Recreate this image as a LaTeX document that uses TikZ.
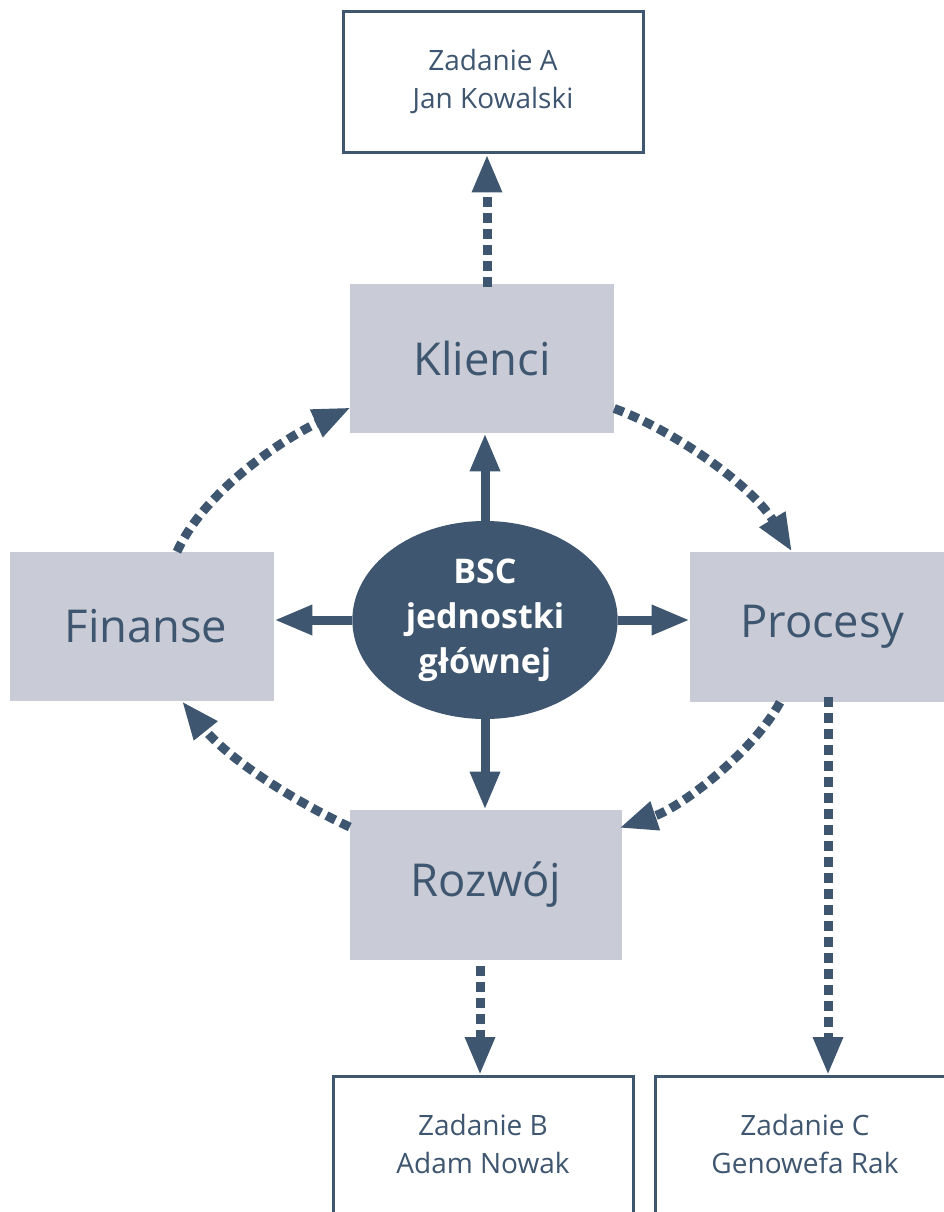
\documentclass[tikz,border=0pt]{standalone}
\usepackage{fontspec}
\setmainfont{Open Sans}
\usetikzlibrary{arrows.meta,shapes.geometric,calc}
\definecolor{dark}{HTML}{3E566F}
\definecolor{boxfill}{HTML}{C9CCD6}
\tikzset{
  area/.style={rectangle, fill=boxfill, text=dark, inner sep=0pt,
    font=\fontsize{34}{40}\selectfont},
  taskbox/.style={rectangle, draw=dark, line width=2.25pt, fill=white, inner sep=0pt},
  tasktext/.style={text=dark, align=center, inner sep=0pt,
    font=\fontsize{21}{28.5}\selectfont},
  core/.style={ellipse, fill=dark, text=white, align=center, inner sep=0pt,
    minimum width=199pt, minimum height=148.5pt,
    font=\bfseries\fontsize{25.5}{33.75}\selectfont},
  solidarrow/.style={draw=dark, line width=6.75pt,
    -{Triangle[length=28.5pt,width=21pt]}},
  dasharrow/.style={draw=dark, line width=6.75pt, dash pattern=on 7.5pt off 4.5pt,
    -{Triangle[length=28.5pt,width=21pt]}}
}
\begin{document}
\begin{tikzpicture}[x=0.75pt,y=-0.75pt]
\useasboundingbox (0,0) rectangle (944,1212);
\clip (0,0) rectangle (944,1212);

% task boxes
\node[taskbox, minimum width=225pt, minimum height=105.75pt] (A) at (493,82.5) {};
\node[tasktext] (At) at (493,81) {Zadanie A\\Jan Kowalski};
\node[taskbox, minimum width=225pt, minimum height=150pt, anchor=north] (B) at (483,1075) {};
\node[tasktext] (Bt) at (483,1144) {Zadanie B\\Adam Nowak};
\node[taskbox, minimum width=225pt, minimum height=150pt, anchor=north] (C) at (805,1075) {};
\node[tasktext] (Ct) at (805,1144) {Zadanie C\\Genowefa Rak};

% perspective boxes
\node[area, minimum width=198pt, minimum height=111.75pt] (K) at (482,358.5) {Klienci};
\node[area, minimum width=198pt, minimum height=111.75pt] (F) at (142,626.5) {\hspace{6pt}Finanse};
\node[area, minimum width=198pt, minimum height=112.5pt] (P) at (822,627) {Procesy};
\node[area, minimum width=204pt, minimum height=112.5pt] (R) at (486,885) {Rozwój};

% core
\node[core] (E) at (485,620) {BSC\\jednostki\\głównej};

% solid arrows from core
\draw[solidarrow] (E.north) -- (E.north |- K.south);
\draw[solidarrow] (E.south) -- (E.south |- R.north);
\draw[solidarrow] (E.west) -- (E.west -| F.east);
\draw[solidarrow] (E.east) -- (E.east -| P.west);

% curved dashed cycle
\draw[dasharrow] ($(F.north)+(35,0)$) .. controls +(28,-62) and +(-65,30) .. ($(K.west)+(1,49)$);
\draw[dasharrow] ($(K.east)+(0,50)$) .. controls +(60,22) and +(-40,-66) .. ($(P.north)+(-30,0)$);
\draw[dasharrow] ($(P.south)+(-42,0)$) .. controls +(-25,47) and +(65,-22) .. ($(R.east)+(-3,-57)$);
\draw[dasharrow] ($(R.west)+(0,-58)$) .. controls +(-60,-28) and +(45,56) .. ($(F.south)+(40,0)$);

% dashed arrows to tasks
\coordinate (ka) at (487,287);
\draw[dasharrow] (ka) -- (ka |- A.south);
\coordinate (rb) at (480,966);
\draw[dasharrow] (rb) -- (rb |- B.north);
\coordinate (pc) at (828,697);
\draw[dasharrow] (pc) -- (pc |- C.north);
\end{tikzpicture}
\end{document}
